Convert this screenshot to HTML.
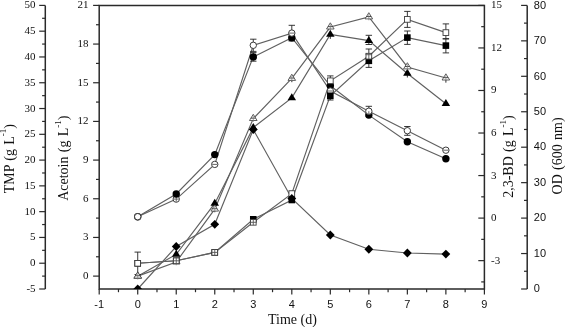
<!DOCTYPE html>
<html><head><meta charset="utf-8"><style>
html,body{margin:0;padding:0;background:#fff;}
body{width:565px;height:327px;overflow:hidden;}
svg{display:block;will-change:transform;}
text{fill:#111;}
</style></head><body>
<svg width="565" height="327" viewBox="0 0 565 327">
<rect width="565" height="327" fill="#fff"/>
<path d="M99.2,5.4 H484.4 V289.0 H99.2 Z" stroke="#2a2a2a" stroke-width="1.5" fill="none" stroke-linejoin="miter"/>
<line x1="45.3" y1="5.4" x2="45.3" y2="289.0" stroke="#2a2a2a" stroke-width="1.5" fill="none"/>
<line x1="527.2" y1="5.4" x2="527.2" y2="289.0" stroke="#2a2a2a" stroke-width="1.5" fill="none"/>
<line x1="39.20" y1="289.00" x2="45.3" y2="289.00" stroke="#2a2a2a" stroke-width="1.2"/>
<line x1="42.10" y1="276.11" x2="45.3" y2="276.11" stroke="#2a2a2a" stroke-width="1.2"/>
<line x1="39.20" y1="263.22" x2="45.3" y2="263.22" stroke="#2a2a2a" stroke-width="1.2"/>
<line x1="42.10" y1="250.33" x2="45.3" y2="250.33" stroke="#2a2a2a" stroke-width="1.2"/>
<line x1="39.20" y1="237.44" x2="45.3" y2="237.44" stroke="#2a2a2a" stroke-width="1.2"/>
<line x1="42.10" y1="224.55" x2="45.3" y2="224.55" stroke="#2a2a2a" stroke-width="1.2"/>
<line x1="39.20" y1="211.65" x2="45.3" y2="211.65" stroke="#2a2a2a" stroke-width="1.2"/>
<line x1="42.10" y1="198.76" x2="45.3" y2="198.76" stroke="#2a2a2a" stroke-width="1.2"/>
<line x1="39.20" y1="185.87" x2="45.3" y2="185.87" stroke="#2a2a2a" stroke-width="1.2"/>
<line x1="42.10" y1="172.98" x2="45.3" y2="172.98" stroke="#2a2a2a" stroke-width="1.2"/>
<line x1="39.20" y1="160.09" x2="45.3" y2="160.09" stroke="#2a2a2a" stroke-width="1.2"/>
<line x1="42.10" y1="147.20" x2="45.3" y2="147.20" stroke="#2a2a2a" stroke-width="1.2"/>
<line x1="39.20" y1="134.31" x2="45.3" y2="134.31" stroke="#2a2a2a" stroke-width="1.2"/>
<line x1="42.10" y1="121.42" x2="45.3" y2="121.42" stroke="#2a2a2a" stroke-width="1.2"/>
<line x1="39.20" y1="108.53" x2="45.3" y2="108.53" stroke="#2a2a2a" stroke-width="1.2"/>
<line x1="42.10" y1="95.64" x2="45.3" y2="95.64" stroke="#2a2a2a" stroke-width="1.2"/>
<line x1="39.20" y1="82.75" x2="45.3" y2="82.75" stroke="#2a2a2a" stroke-width="1.2"/>
<line x1="42.10" y1="69.85" x2="45.3" y2="69.85" stroke="#2a2a2a" stroke-width="1.2"/>
<line x1="39.20" y1="56.96" x2="45.3" y2="56.96" stroke="#2a2a2a" stroke-width="1.2"/>
<line x1="42.10" y1="44.07" x2="45.3" y2="44.07" stroke="#2a2a2a" stroke-width="1.2"/>
<line x1="39.20" y1="31.18" x2="45.3" y2="31.18" stroke="#2a2a2a" stroke-width="1.2"/>
<line x1="42.10" y1="18.29" x2="45.3" y2="18.29" stroke="#2a2a2a" stroke-width="1.2"/>
<line x1="39.20" y1="5.40" x2="45.3" y2="5.40" stroke="#2a2a2a" stroke-width="1.2"/>
<line x1="93.10" y1="276.11" x2="99.2" y2="276.11" stroke="#2a2a2a" stroke-width="1.2"/>
<line x1="96.00" y1="256.77" x2="99.2" y2="256.77" stroke="#2a2a2a" stroke-width="1.2"/>
<line x1="93.10" y1="237.44" x2="99.2" y2="237.44" stroke="#2a2a2a" stroke-width="1.2"/>
<line x1="96.00" y1="218.10" x2="99.2" y2="218.10" stroke="#2a2a2a" stroke-width="1.2"/>
<line x1="93.10" y1="198.76" x2="99.2" y2="198.76" stroke="#2a2a2a" stroke-width="1.2"/>
<line x1="96.00" y1="179.43" x2="99.2" y2="179.43" stroke="#2a2a2a" stroke-width="1.2"/>
<line x1="93.10" y1="160.09" x2="99.2" y2="160.09" stroke="#2a2a2a" stroke-width="1.2"/>
<line x1="96.00" y1="140.75" x2="99.2" y2="140.75" stroke="#2a2a2a" stroke-width="1.2"/>
<line x1="93.10" y1="121.42" x2="99.2" y2="121.42" stroke="#2a2a2a" stroke-width="1.2"/>
<line x1="96.00" y1="102.08" x2="99.2" y2="102.08" stroke="#2a2a2a" stroke-width="1.2"/>
<line x1="93.10" y1="82.75" x2="99.2" y2="82.75" stroke="#2a2a2a" stroke-width="1.2"/>
<line x1="96.00" y1="63.41" x2="99.2" y2="63.41" stroke="#2a2a2a" stroke-width="1.2"/>
<line x1="93.10" y1="44.07" x2="99.2" y2="44.07" stroke="#2a2a2a" stroke-width="1.2"/>
<line x1="96.00" y1="24.74" x2="99.2" y2="24.74" stroke="#2a2a2a" stroke-width="1.2"/>
<line x1="93.10" y1="5.40" x2="99.2" y2="5.40" stroke="#2a2a2a" stroke-width="1.2"/>
<line x1="481.20" y1="281.91" x2="484.4" y2="281.91" stroke="#2a2a2a" stroke-width="1.2"/>
<line x1="478.30" y1="260.64" x2="484.4" y2="260.64" stroke="#2a2a2a" stroke-width="1.2"/>
<line x1="481.20" y1="239.37" x2="484.4" y2="239.37" stroke="#2a2a2a" stroke-width="1.2"/>
<line x1="478.30" y1="218.10" x2="484.4" y2="218.10" stroke="#2a2a2a" stroke-width="1.2"/>
<line x1="481.20" y1="196.83" x2="484.4" y2="196.83" stroke="#2a2a2a" stroke-width="1.2"/>
<line x1="478.30" y1="175.56" x2="484.4" y2="175.56" stroke="#2a2a2a" stroke-width="1.2"/>
<line x1="481.20" y1="154.29" x2="484.4" y2="154.29" stroke="#2a2a2a" stroke-width="1.2"/>
<line x1="478.30" y1="133.02" x2="484.4" y2="133.02" stroke="#2a2a2a" stroke-width="1.2"/>
<line x1="481.20" y1="111.75" x2="484.4" y2="111.75" stroke="#2a2a2a" stroke-width="1.2"/>
<line x1="478.30" y1="90.48" x2="484.4" y2="90.48" stroke="#2a2a2a" stroke-width="1.2"/>
<line x1="481.20" y1="69.21" x2="484.4" y2="69.21" stroke="#2a2a2a" stroke-width="1.2"/>
<line x1="478.30" y1="47.94" x2="484.4" y2="47.94" stroke="#2a2a2a" stroke-width="1.2"/>
<line x1="481.20" y1="26.67" x2="484.4" y2="26.67" stroke="#2a2a2a" stroke-width="1.2"/>
<line x1="478.30" y1="5.40" x2="484.4" y2="5.40" stroke="#2a2a2a" stroke-width="1.2"/>
<line x1="521.10" y1="289.00" x2="527.2" y2="289.00" stroke="#2a2a2a" stroke-width="1.2"/>
<line x1="524.00" y1="271.27" x2="527.2" y2="271.27" stroke="#2a2a2a" stroke-width="1.2"/>
<line x1="521.10" y1="253.55" x2="527.2" y2="253.55" stroke="#2a2a2a" stroke-width="1.2"/>
<line x1="524.00" y1="235.82" x2="527.2" y2="235.82" stroke="#2a2a2a" stroke-width="1.2"/>
<line x1="521.10" y1="218.10" x2="527.2" y2="218.10" stroke="#2a2a2a" stroke-width="1.2"/>
<line x1="524.00" y1="200.38" x2="527.2" y2="200.38" stroke="#2a2a2a" stroke-width="1.2"/>
<line x1="521.10" y1="182.65" x2="527.2" y2="182.65" stroke="#2a2a2a" stroke-width="1.2"/>
<line x1="524.00" y1="164.92" x2="527.2" y2="164.92" stroke="#2a2a2a" stroke-width="1.2"/>
<line x1="521.10" y1="147.20" x2="527.2" y2="147.20" stroke="#2a2a2a" stroke-width="1.2"/>
<line x1="524.00" y1="129.47" x2="527.2" y2="129.47" stroke="#2a2a2a" stroke-width="1.2"/>
<line x1="521.10" y1="111.75" x2="527.2" y2="111.75" stroke="#2a2a2a" stroke-width="1.2"/>
<line x1="524.00" y1="94.02" x2="527.2" y2="94.02" stroke="#2a2a2a" stroke-width="1.2"/>
<line x1="521.10" y1="76.30" x2="527.2" y2="76.30" stroke="#2a2a2a" stroke-width="1.2"/>
<line x1="524.00" y1="58.57" x2="527.2" y2="58.57" stroke="#2a2a2a" stroke-width="1.2"/>
<line x1="521.10" y1="40.85" x2="527.2" y2="40.85" stroke="#2a2a2a" stroke-width="1.2"/>
<line x1="524.00" y1="23.12" x2="527.2" y2="23.12" stroke="#2a2a2a" stroke-width="1.2"/>
<line x1="521.10" y1="5.40" x2="527.2" y2="5.40" stroke="#2a2a2a" stroke-width="1.2"/>
<line x1="99.20" y1="289.0" x2="99.20" y2="294.40" stroke="#2a2a2a" stroke-width="1.2"/>
<line x1="118.46" y1="289.0" x2="118.46" y2="292.20" stroke="#2a2a2a" stroke-width="1.2"/>
<line x1="137.72" y1="289.0" x2="137.72" y2="294.40" stroke="#2a2a2a" stroke-width="1.2"/>
<line x1="156.98" y1="289.0" x2="156.98" y2="292.20" stroke="#2a2a2a" stroke-width="1.2"/>
<line x1="176.24" y1="289.0" x2="176.24" y2="294.40" stroke="#2a2a2a" stroke-width="1.2"/>
<line x1="195.50" y1="289.0" x2="195.50" y2="292.20" stroke="#2a2a2a" stroke-width="1.2"/>
<line x1="214.76" y1="289.0" x2="214.76" y2="294.40" stroke="#2a2a2a" stroke-width="1.2"/>
<line x1="234.02" y1="289.0" x2="234.02" y2="292.20" stroke="#2a2a2a" stroke-width="1.2"/>
<line x1="253.28" y1="289.0" x2="253.28" y2="294.40" stroke="#2a2a2a" stroke-width="1.2"/>
<line x1="272.54" y1="289.0" x2="272.54" y2="292.20" stroke="#2a2a2a" stroke-width="1.2"/>
<line x1="291.80" y1="289.0" x2="291.80" y2="294.40" stroke="#2a2a2a" stroke-width="1.2"/>
<line x1="311.06" y1="289.0" x2="311.06" y2="292.20" stroke="#2a2a2a" stroke-width="1.2"/>
<line x1="330.32" y1="289.0" x2="330.32" y2="294.40" stroke="#2a2a2a" stroke-width="1.2"/>
<line x1="349.58" y1="289.0" x2="349.58" y2="292.20" stroke="#2a2a2a" stroke-width="1.2"/>
<line x1="368.84" y1="289.0" x2="368.84" y2="294.40" stroke="#2a2a2a" stroke-width="1.2"/>
<line x1="388.10" y1="289.0" x2="388.10" y2="292.20" stroke="#2a2a2a" stroke-width="1.2"/>
<line x1="407.36" y1="289.0" x2="407.36" y2="294.40" stroke="#2a2a2a" stroke-width="1.2"/>
<line x1="426.62" y1="289.0" x2="426.62" y2="292.20" stroke="#2a2a2a" stroke-width="1.2"/>
<line x1="445.88" y1="289.0" x2="445.88" y2="294.40" stroke="#2a2a2a" stroke-width="1.2"/>
<line x1="465.14" y1="289.0" x2="465.14" y2="292.20" stroke="#2a2a2a" stroke-width="1.2"/>
<line x1="484.40" y1="289.0" x2="484.40" y2="294.40" stroke="#2a2a2a" stroke-width="1.2"/>
<polyline points="137.72,289.00 176.24,246.50 214.76,224.30 253.28,129.60 291.80,198.50 330.32,235.00 368.84,249.25 407.36,253.00 445.88,254.10" stroke="#606060" stroke-width="1.15" fill="none"/>
<polyline points="137.72,263.30 176.24,260.80 214.76,252.40 253.28,219.30 291.80,200.00 330.32,95.80 368.84,60.80 407.36,37.60 445.88,45.60" stroke="#606060" stroke-width="1.15" fill="none"/>
<polyline points="137.72,263.30 176.24,260.80 214.76,252.40 253.28,222.30 291.80,193.60 330.32,80.80 368.84,56.20 407.36,19.40 445.88,32.60" stroke="#606060" stroke-width="1.15" fill="none"/>
<polyline points="137.72,276.15 176.24,254.35 214.76,203.45 253.28,127.65 291.80,97.85 330.32,34.45 368.84,40.65 407.36,73.45 445.88,103.75" stroke="#606060" stroke-width="1.15" fill="none"/>
<polyline points="137.72,276.15 176.24,261.95 214.76,209.15 253.28,118.55 291.80,78.45 330.32,27.05 368.84,16.95 407.36,66.95 445.88,78.05" stroke="#606060" stroke-width="1.15" fill="none"/>
<polyline points="137.72,216.70 176.24,194.00 214.76,154.60 253.28,56.90 291.80,37.70 330.32,85.80 368.84,115.10 407.36,141.80 445.88,158.80" stroke="#606060" stroke-width="1.15" fill="none"/>
<polyline points="137.72,216.70 176.24,199.10 214.76,164.40 253.28,45.30 291.80,33.10 330.32,91.00 368.84,111.20 407.36,130.70 445.88,150.20" stroke="#606060" stroke-width="1.15" fill="none"/>
<line x1="137.72" y1="252.10" x2="137.72" y2="274.50" stroke="#222" stroke-width="0.9"/>
<line x1="134.52" y1="252.10" x2="140.92" y2="252.10" stroke="#222" stroke-width="0.9"/>
<line x1="134.52" y1="274.50" x2="140.92" y2="274.50" stroke="#222" stroke-width="0.9"/>
<line x1="253.28" y1="39.20" x2="253.28" y2="51.40" stroke="#222" stroke-width="0.9"/>
<line x1="250.08" y1="39.20" x2="256.48" y2="39.20" stroke="#222" stroke-width="0.9"/>
<line x1="250.08" y1="51.40" x2="256.48" y2="51.40" stroke="#222" stroke-width="0.9"/>
<line x1="253.28" y1="52.60" x2="253.28" y2="61.20" stroke="#222" stroke-width="0.9"/>
<line x1="250.08" y1="52.60" x2="256.48" y2="52.60" stroke="#222" stroke-width="0.9"/>
<line x1="250.08" y1="61.20" x2="256.48" y2="61.20" stroke="#222" stroke-width="0.9"/>
<line x1="291.80" y1="25.30" x2="291.80" y2="40.90" stroke="#222" stroke-width="0.9"/>
<line x1="288.60" y1="25.30" x2="295.00" y2="25.30" stroke="#222" stroke-width="0.9"/>
<line x1="288.60" y1="40.90" x2="295.00" y2="40.90" stroke="#222" stroke-width="0.9"/>
<line x1="330.32" y1="75.90" x2="330.32" y2="85.70" stroke="#222" stroke-width="0.9"/>
<line x1="327.12" y1="75.90" x2="333.52" y2="75.90" stroke="#222" stroke-width="0.9"/>
<line x1="327.12" y1="85.70" x2="333.52" y2="85.70" stroke="#222" stroke-width="0.9"/>
<line x1="330.32" y1="91.60" x2="330.32" y2="100.00" stroke="#222" stroke-width="0.9"/>
<line x1="327.12" y1="91.60" x2="333.52" y2="91.60" stroke="#222" stroke-width="0.9"/>
<line x1="327.12" y1="100.00" x2="333.52" y2="100.00" stroke="#222" stroke-width="0.9"/>
<line x1="368.84" y1="49.00" x2="368.84" y2="63.40" stroke="#222" stroke-width="0.9"/>
<line x1="365.64" y1="49.00" x2="372.04" y2="49.00" stroke="#222" stroke-width="0.9"/>
<line x1="365.64" y1="63.40" x2="372.04" y2="63.40" stroke="#222" stroke-width="0.9"/>
<line x1="368.84" y1="54.20" x2="368.84" y2="67.40" stroke="#222" stroke-width="0.9"/>
<line x1="365.64" y1="54.20" x2="372.04" y2="54.20" stroke="#222" stroke-width="0.9"/>
<line x1="365.64" y1="67.40" x2="372.04" y2="67.40" stroke="#222" stroke-width="0.9"/>
<line x1="368.84" y1="35.30" x2="368.84" y2="44.50" stroke="#222" stroke-width="0.9"/>
<line x1="365.64" y1="35.30" x2="372.04" y2="35.30" stroke="#222" stroke-width="0.9"/>
<line x1="365.64" y1="44.50" x2="372.04" y2="44.50" stroke="#222" stroke-width="0.9"/>
<line x1="368.84" y1="106.30" x2="368.84" y2="116.30" stroke="#222" stroke-width="0.9"/>
<line x1="365.64" y1="106.30" x2="372.04" y2="106.30" stroke="#222" stroke-width="0.9"/>
<line x1="365.64" y1="116.30" x2="372.04" y2="116.30" stroke="#222" stroke-width="0.9"/>
<line x1="407.36" y1="11.40" x2="407.36" y2="27.40" stroke="#222" stroke-width="0.9"/>
<line x1="404.16" y1="11.40" x2="410.56" y2="11.40" stroke="#222" stroke-width="0.9"/>
<line x1="404.16" y1="27.40" x2="410.56" y2="27.40" stroke="#222" stroke-width="0.9"/>
<line x1="407.36" y1="31.00" x2="407.36" y2="44.40" stroke="#222" stroke-width="0.9"/>
<line x1="404.16" y1="31.00" x2="410.56" y2="31.00" stroke="#222" stroke-width="0.9"/>
<line x1="404.16" y1="44.40" x2="410.56" y2="44.40" stroke="#222" stroke-width="0.9"/>
<line x1="407.36" y1="126.50" x2="407.36" y2="135.30" stroke="#222" stroke-width="0.9"/>
<line x1="404.16" y1="126.50" x2="410.56" y2="126.50" stroke="#222" stroke-width="0.9"/>
<line x1="404.16" y1="135.30" x2="410.56" y2="135.30" stroke="#222" stroke-width="0.9"/>
<line x1="407.36" y1="72.30" x2="407.36" y2="77.50" stroke="#222" stroke-width="0.9"/>
<line x1="445.88" y1="23.90" x2="445.88" y2="38.60" stroke="#222" stroke-width="0.9"/>
<line x1="442.68" y1="23.90" x2="449.08" y2="23.90" stroke="#222" stroke-width="0.9"/>
<line x1="442.68" y1="38.60" x2="449.08" y2="38.60" stroke="#222" stroke-width="0.9"/>
<line x1="445.88" y1="39.00" x2="445.88" y2="52.90" stroke="#222" stroke-width="0.9"/>
<line x1="442.68" y1="39.00" x2="449.08" y2="39.00" stroke="#222" stroke-width="0.9"/>
<line x1="442.68" y1="52.90" x2="449.08" y2="52.90" stroke="#222" stroke-width="0.9"/>
<line x1="445.88" y1="76.90" x2="445.88" y2="82.70" stroke="#222" stroke-width="0.9"/>
<line x1="291.80" y1="77.30" x2="291.80" y2="82.20" stroke="#222" stroke-width="0.9"/>
<line x1="330.32" y1="33.30" x2="330.32" y2="38.90" stroke="#222" stroke-width="0.9"/>
<line x1="214.76" y1="208.00" x2="214.76" y2="212.00" stroke="#222" stroke-width="0.9"/>
<line x1="291.80" y1="34.70" x2="291.80" y2="40.70" stroke="#222" stroke-width="0.9"/>
<line x1="288.60" y1="34.70" x2="295.00" y2="34.70" stroke="#222" stroke-width="0.9"/>
<line x1="288.60" y1="40.70" x2="295.00" y2="40.70" stroke="#222" stroke-width="0.9"/>
<clipPath id="pc"><rect x="93.2" y="0" width="397.2" height="289.0"/></clipPath>
<g clip-path="url(#pc)">
<path d="M137.72,284.60 L142.12,289.00 L137.72,293.40 L133.32,289.00 Z" fill="#000"/>
<path d="M176.24,242.10 L180.64,246.50 L176.24,250.90 L171.84,246.50 Z" fill="#000"/>
<path d="M214.76,219.90 L219.16,224.30 L214.76,228.70 L210.36,224.30 Z" fill="#000"/>
<path d="M253.28,125.20 L257.68,129.60 L253.28,134.00 L248.88,129.60 Z" fill="#000"/>
<path d="M330.32,230.60 L334.72,235.00 L330.32,239.40 L325.92,235.00 Z" fill="#000"/>
<path d="M368.84,244.85 L373.24,249.25 L368.84,253.65 L364.44,249.25 Z" fill="#000"/>
<path d="M407.36,248.60 L411.76,253.00 L407.36,257.40 L402.96,253.00 Z" fill="#000"/>
<path d="M445.88,249.70 L450.28,254.10 L445.88,258.50 L441.48,254.10 Z" fill="#000"/>
<rect x="134.42" y="260.00" width="6.6" height="6.6" fill="#000"/>
<rect x="172.94" y="257.50" width="6.6" height="6.6" fill="#000"/>
<rect x="211.46" y="249.10" width="6.6" height="6.6" fill="#000"/>
<rect x="249.98" y="216.00" width="6.6" height="6.6" fill="#000"/>
<rect x="365.54" y="57.50" width="6.6" height="6.6" fill="#000"/>
<rect x="404.06" y="34.30" width="6.6" height="6.6" fill="#000"/>
<rect x="442.58" y="42.30" width="6.6" height="6.6" fill="#000"/>
<rect x="134.87" y="260.45" width="5.7" height="5.7" fill="#fff" stroke="#3c3c3c" stroke-width="0.9"/>
<rect x="211.91" y="249.55" width="5.7" height="5.7" fill="#fff" stroke="#3c3c3c" stroke-width="0.9"/><line x1="211.91" y1="252.40" x2="217.61" y2="252.40" stroke="#555" stroke-width="0.9"/><line x1="214.76" y1="249.55" x2="214.76" y2="255.25" stroke="#555" stroke-width="0.9"/>
<rect x="250.43" y="219.45" width="5.7" height="5.7" fill="#fff" stroke="#3c3c3c" stroke-width="0.9"/><line x1="250.43" y1="222.30" x2="256.13" y2="222.30" stroke="#555" stroke-width="0.9"/><line x1="253.28" y1="219.45" x2="253.28" y2="225.15" stroke="#555" stroke-width="0.9"/>
<rect x="288.95" y="190.75" width="5.7" height="5.7" fill="#fff" stroke="#3c3c3c" stroke-width="0.9"/>
<rect x="365.99" y="53.35" width="5.7" height="5.7" fill="#fff" stroke="#3c3c3c" stroke-width="0.9"/><line x1="368.84" y1="53.35" x2="368.84" y2="59.05" stroke="#555" stroke-width="0.9"/><line x1="365.99" y1="54.70" x2="371.69" y2="54.70" stroke="#555" stroke-width="0.9"/>
<rect x="404.51" y="16.55" width="5.7" height="5.7" fill="#fff" stroke="#3c3c3c" stroke-width="0.9"/>
<rect x="443.03" y="29.75" width="5.7" height="5.7" fill="#fff" stroke="#3c3c3c" stroke-width="0.9"/>
<rect x="288.50" y="196.70" width="6.6" height="6.6" fill="#000"/>
<path d="M291.80,194.10 L296.20,198.50 L291.80,202.90 L287.40,198.50 Z" fill="#000"/>
<path d="M137.72,271.50 L141.97,278.50 L133.47,278.50 Z" fill="#000"/>
<path d="M214.76,198.80 L219.01,205.80 L210.51,205.80 Z" fill="#000"/>
<path d="M253.28,123.00 L257.53,130.00 L249.03,130.00 Z" fill="#000"/>
<path d="M291.80,93.20 L296.05,100.20 L287.55,100.20 Z" fill="#000"/>
<path d="M330.32,29.80 L334.57,36.80 L326.07,36.80 Z" fill="#000"/>
<path d="M368.84,36.00 L373.09,43.00 L364.59,43.00 Z" fill="#000"/>
<path d="M407.36,68.80 L411.61,75.80 L403.11,75.80 Z" fill="#000"/>
<path d="M445.88,99.10 L450.13,106.10 L441.63,106.10 Z" fill="#000"/>
<path d="M137.72,271.90 L141.52,278.10 L133.92,278.10 Z" fill="#fff" stroke="#444" stroke-width="0.85" stroke-linejoin="miter"/><line x1="135.36" y1="275.74" x2="140.08" y2="275.74" stroke="#333" stroke-width="0.9"/><line x1="137.72" y1="273.40" x2="137.72" y2="279.50" stroke="#777" stroke-width="0.7"/>
<path d="M176.24,257.70 L180.04,263.90 L172.44,263.90 Z" fill="#fff" stroke="#444" stroke-width="0.85" stroke-linejoin="miter"/><line x1="173.88" y1="261.54" x2="178.60" y2="261.54" stroke="#333" stroke-width="0.9"/><line x1="176.24" y1="259.20" x2="176.24" y2="265.30" stroke="#777" stroke-width="0.7"/>
<path d="M214.76,204.90 L218.56,211.10 L210.96,211.10 Z" fill="#fff" stroke="#444" stroke-width="0.85" stroke-linejoin="miter"/><line x1="212.40" y1="208.74" x2="217.12" y2="208.74" stroke="#333" stroke-width="0.9"/><line x1="214.76" y1="206.40" x2="214.76" y2="212.50" stroke="#777" stroke-width="0.7"/>
<path d="M253.28,114.30 L257.08,120.50 L249.48,120.50 Z" fill="#fff" stroke="#444" stroke-width="0.85" stroke-linejoin="miter"/><line x1="250.92" y1="118.14" x2="255.64" y2="118.14" stroke="#333" stroke-width="0.9"/><line x1="253.28" y1="115.80" x2="253.28" y2="121.90" stroke="#777" stroke-width="0.7"/>
<path d="M291.80,74.20 L295.60,80.40 L288.00,80.40 Z" fill="#fff" stroke="#444" stroke-width="0.85" stroke-linejoin="miter"/><line x1="289.44" y1="78.04" x2="294.16" y2="78.04" stroke="#333" stroke-width="0.9"/><line x1="291.80" y1="75.70" x2="291.80" y2="81.80" stroke="#777" stroke-width="0.7"/>
<path d="M330.32,22.80 L334.12,29.00 L326.52,29.00 Z" fill="#fff" stroke="#444" stroke-width="0.85" stroke-linejoin="miter"/><line x1="327.96" y1="26.64" x2="332.68" y2="26.64" stroke="#333" stroke-width="0.9"/><line x1="330.32" y1="24.30" x2="330.32" y2="30.40" stroke="#777" stroke-width="0.7"/>
<path d="M368.84,12.70 L372.64,18.90 L365.04,18.90 Z" fill="#fff" stroke="#444" stroke-width="0.85" stroke-linejoin="miter"/><line x1="366.48" y1="16.54" x2="371.20" y2="16.54" stroke="#333" stroke-width="0.9"/><line x1="368.84" y1="14.20" x2="368.84" y2="20.30" stroke="#777" stroke-width="0.7"/>
<path d="M407.36,62.70 L411.16,68.90 L403.56,68.90 Z" fill="#fff" stroke="#444" stroke-width="0.85" stroke-linejoin="miter"/><line x1="405.00" y1="66.54" x2="409.72" y2="66.54" stroke="#333" stroke-width="0.9"/><line x1="407.36" y1="64.20" x2="407.36" y2="70.30" stroke="#777" stroke-width="0.7"/>
<path d="M445.88,73.80 L449.68,80.00 L442.08,80.00 Z" fill="#fff" stroke="#444" stroke-width="0.85" stroke-linejoin="miter"/><line x1="443.52" y1="77.64" x2="448.24" y2="77.64" stroke="#333" stroke-width="0.9"/><line x1="445.88" y1="75.30" x2="445.88" y2="81.40" stroke="#777" stroke-width="0.7"/>
<rect x="173.39" y="257.95" width="5.7" height="5.7" fill="#fff" stroke="#3c3c3c" stroke-width="0.9"/><line x1="173.39" y1="260.80" x2="179.09" y2="260.80" stroke="#555" stroke-width="0.9"/><line x1="176.24" y1="257.95" x2="176.24" y2="263.65" stroke="#555" stroke-width="0.9"/>
<path d="M176.24,249.70 L180.49,256.70 L171.99,256.70 Z" fill="#000"/>
<circle cx="137.72" cy="216.70" r="3.7" fill="#000"/>
<circle cx="214.76" cy="154.60" r="3.7" fill="#000"/>
<circle cx="253.28" cy="56.90" r="3.7" fill="#000"/>
<circle cx="291.80" cy="37.70" r="3.7" fill="#000"/>
<circle cx="330.32" cy="85.80" r="3.7" fill="#000"/>
<circle cx="368.84" cy="115.10" r="3.7" fill="#000"/>
<circle cx="407.36" cy="141.80" r="3.7" fill="#000"/>
<circle cx="445.88" cy="158.80" r="3.7" fill="#000"/>
<rect x="327.47" y="77.95" width="5.7" height="5.7" fill="#fff" stroke="#3c3c3c" stroke-width="0.9"/>
<circle cx="137.72" cy="216.70" r="3.2" fill="#fff" stroke="#3c3c3c" stroke-width="1"/>
<circle cx="176.24" cy="199.10" r="3.2" fill="#fff" stroke="#3c3c3c" stroke-width="1"/><line x1="173.64" y1="199.10" x2="178.84" y2="199.10" stroke="#555" stroke-width="0.9"/><line x1="176.24" y1="196.50" x2="176.24" y2="201.70" stroke="#555" stroke-width="0.9"/>
<circle cx="214.76" cy="164.40" r="3.2" fill="#fff" stroke="#3c3c3c" stroke-width="1"/><line x1="212.16" y1="164.40" x2="217.36" y2="164.40" stroke="#555" stroke-width="0.9"/>
<circle cx="253.28" cy="45.30" r="3.2" fill="#fff" stroke="#3c3c3c" stroke-width="1"/>
<circle cx="291.80" cy="33.10" r="3.2" fill="#fff" stroke="#3c3c3c" stroke-width="1"/><line x1="289.20" y1="33.10" x2="294.40" y2="33.10" stroke="#555" stroke-width="0.9"/>
<circle cx="330.32" cy="91.00" r="3.2" fill="#fff" stroke="#3c3c3c" stroke-width="1"/><line x1="327.72" y1="91.00" x2="332.92" y2="91.00" stroke="#555" stroke-width="0.9"/>
<circle cx="368.84" cy="111.20" r="3.2" fill="#fff" stroke="#3c3c3c" stroke-width="1"/><line x1="368.84" y1="111.20" x2="368.84" y2="114.00" stroke="#555" stroke-width="0.9"/>
<circle cx="407.36" cy="130.70" r="3.2" fill="#fff" stroke="#3c3c3c" stroke-width="1"/>
<circle cx="445.88" cy="150.20" r="3.2" fill="#fff" stroke="#3c3c3c" stroke-width="1"/><line x1="443.28" y1="150.20" x2="448.48" y2="150.20" stroke="#555" stroke-width="0.9"/>
<circle cx="176.24" cy="194.00" r="3.7" fill="#000"/>
<rect x="327.02" y="92.50" width="6.6" height="6.6" fill="#000"/>
</g>
<text x="35.60" y="292.00" text-anchor="end" font-family='"Liberation Serif", serif' font-size="11">-5</text>
<text x="35.60" y="266.22" text-anchor="end" font-family='"Liberation Serif", serif' font-size="11">0</text>
<text x="35.60" y="240.44" text-anchor="end" font-family='"Liberation Serif", serif' font-size="11">5</text>
<text x="35.60" y="214.65" text-anchor="end" font-family='"Liberation Serif", serif' font-size="11">10</text>
<text x="35.60" y="188.87" text-anchor="end" font-family='"Liberation Serif", serif' font-size="11">15</text>
<text x="35.60" y="163.09" text-anchor="end" font-family='"Liberation Serif", serif' font-size="11">20</text>
<text x="35.60" y="137.31" text-anchor="end" font-family='"Liberation Serif", serif' font-size="11">25</text>
<text x="35.60" y="111.53" text-anchor="end" font-family='"Liberation Serif", serif' font-size="11">30</text>
<text x="35.60" y="85.75" text-anchor="end" font-family='"Liberation Serif", serif' font-size="11">35</text>
<text x="35.60" y="59.96" text-anchor="end" font-family='"Liberation Serif", serif' font-size="11">40</text>
<text x="35.60" y="34.18" text-anchor="end" font-family='"Liberation Serif", serif' font-size="11">45</text>
<text x="35.60" y="8.40" text-anchor="end" font-family='"Liberation Serif", serif' font-size="11">50</text>
<text x="88.50" y="279.11" text-anchor="end" font-family='"Liberation Serif", serif' font-size="11">0</text>
<text x="88.50" y="240.44" text-anchor="end" font-family='"Liberation Serif", serif' font-size="11">3</text>
<text x="88.50" y="201.76" text-anchor="end" font-family='"Liberation Serif", serif' font-size="11">6</text>
<text x="88.50" y="163.09" text-anchor="end" font-family='"Liberation Serif", serif' font-size="11">9</text>
<text x="88.50" y="124.42" text-anchor="end" font-family='"Liberation Serif", serif' font-size="11">12</text>
<text x="88.50" y="85.75" text-anchor="end" font-family='"Liberation Serif", serif' font-size="11">15</text>
<text x="88.50" y="47.07" text-anchor="end" font-family='"Liberation Serif", serif' font-size="11">18</text>
<text x="88.50" y="8.40" text-anchor="end" font-family='"Liberation Serif", serif' font-size="11">21</text>
<text x="491.00" y="263.64" text-anchor="start" font-family='"Liberation Serif", serif' font-size="11">-3</text>
<text x="491.00" y="221.10" text-anchor="start" font-family='"Liberation Serif", serif' font-size="11">0</text>
<text x="491.00" y="178.56" text-anchor="start" font-family='"Liberation Serif", serif' font-size="11">3</text>
<text x="491.00" y="136.02" text-anchor="start" font-family='"Liberation Serif", serif' font-size="11">6</text>
<text x="491.00" y="93.48" text-anchor="start" font-family='"Liberation Serif", serif' font-size="11">9</text>
<text x="491.00" y="50.94" text-anchor="start" font-family='"Liberation Serif", serif' font-size="11">12</text>
<text x="491.00" y="8.40" text-anchor="start" font-family='"Liberation Serif", serif' font-size="11">15</text>
<text x="533.80" y="292.20" text-anchor="start" font-family='"Liberation Sans", sans-serif' font-size="11">0</text>
<text x="533.80" y="256.75" text-anchor="start" font-family='"Liberation Sans", sans-serif' font-size="11">10</text>
<text x="533.80" y="221.30" text-anchor="start" font-family='"Liberation Sans", sans-serif' font-size="11">20</text>
<text x="533.80" y="185.85" text-anchor="start" font-family='"Liberation Sans", sans-serif' font-size="11">30</text>
<text x="533.80" y="150.40" text-anchor="start" font-family='"Liberation Sans", sans-serif' font-size="11">40</text>
<text x="533.80" y="114.95" text-anchor="start" font-family='"Liberation Sans", sans-serif' font-size="11">50</text>
<text x="533.80" y="79.50" text-anchor="start" font-family='"Liberation Sans", sans-serif' font-size="11">60</text>
<text x="533.80" y="44.05" text-anchor="start" font-family='"Liberation Sans", sans-serif' font-size="11">70</text>
<text x="533.80" y="8.60" text-anchor="start" font-family='"Liberation Sans", sans-serif' font-size="11">80</text>
<text x="99.20" y="307.6" text-anchor="middle" font-family='"Liberation Sans", sans-serif' font-size="11">-1</text>
<text x="137.72" y="307.6" text-anchor="middle" font-family='"Liberation Sans", sans-serif' font-size="11">0</text>
<text x="176.24" y="307.6" text-anchor="middle" font-family='"Liberation Sans", sans-serif' font-size="11">1</text>
<text x="214.76" y="307.6" text-anchor="middle" font-family='"Liberation Sans", sans-serif' font-size="11">2</text>
<text x="253.28" y="307.6" text-anchor="middle" font-family='"Liberation Sans", sans-serif' font-size="11">3</text>
<text x="291.80" y="307.6" text-anchor="middle" font-family='"Liberation Sans", sans-serif' font-size="11">4</text>
<text x="330.32" y="307.6" text-anchor="middle" font-family='"Liberation Sans", sans-serif' font-size="11">5</text>
<text x="368.84" y="307.6" text-anchor="middle" font-family='"Liberation Sans", sans-serif' font-size="11">6</text>
<text x="407.36" y="307.6" text-anchor="middle" font-family='"Liberation Sans", sans-serif' font-size="11">7</text>
<text x="445.88" y="307.6" text-anchor="middle" font-family='"Liberation Sans", sans-serif' font-size="11">8</text>
<text x="484.40" y="307.6" text-anchor="middle" font-family='"Liberation Sans", sans-serif' font-size="11">9</text>
<text transform="translate(13.70,158.60) rotate(-90)" text-anchor="middle" font-family='"Liberation Serif", serif' font-size="14" word-spacing="0.8">TMP (g L<tspan font-size="9" dy="-7.5">-1</tspan><tspan dy="7.5">)</tspan></text>
<text transform="translate(68.30,158.20) rotate(-90)" text-anchor="middle" font-family='"Liberation Serif", serif' font-size="14" word-spacing="0.8">Acetoin (g L<tspan font-size="9" dy="-7.5">-1</tspan><tspan dy="7.5">)</tspan></text>
<text transform="translate(513.40,156.50) rotate(-90)" text-anchor="middle" font-family='"Liberation Serif", serif' font-size="14" word-spacing="0.8">2,3-BD (g L<tspan font-size="9" dy="-7.5">-1</tspan><tspan dy="7.5">)</tspan></text>
<text transform="translate(562.00,155.90) rotate(-90)" text-anchor="middle" font-family='"Liberation Serif", serif' font-size="14" word-spacing="0.8">OD (600 nm)</text>
<text x="292.4" y="324.2" text-anchor="middle" font-family='"Liberation Serif", serif' font-size="14">Time (d)</text>
</svg>
</body></html>
